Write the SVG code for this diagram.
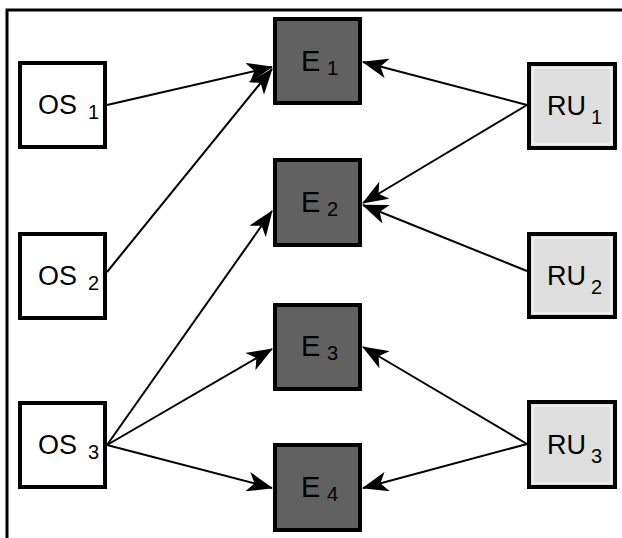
<svg xmlns="http://www.w3.org/2000/svg" width="622" height="538" viewBox="0 0 622 538">
<style>
.box{stroke:#000;stroke-width:4}
.os{fill:#fff}
.e{fill:#616161}
.ru{fill:#dedede}
.inner{fill:none;stroke:#f4f4f4;stroke-width:1.5}
.t{font-family:"Liberation Sans",Arial,sans-serif;fill:#000}
.m{font-size:27px}
.me{font-size:29px}
.s{font-size:20px}
.c line{stroke:#000;stroke-width:2}
</style>
<defs>
<marker id="ah" viewBox="0 0 26 20" markerWidth="26" markerHeight="20" refX="25" refY="10" orient="auto" markerUnits="userSpaceOnUse">
<path d="M0,0 L26,10 L0,20 L7,10 z" fill="#000"/>
</marker>
</defs>
<rect width="622" height="538" fill="#fff"/>
<path d="M7,538 V10 H622" fill="none" stroke="#000" stroke-width="3"/>
<g class="c">
<line x1="107" y1="105" x2="272" y2="67" marker-end="url(#ah)"/>
<line x1="107" y1="272" x2="272" y2="69" marker-end="url(#ah)"/>
<line x1="107" y1="445" x2="272" y2="211" marker-end="url(#ah)"/>
<line x1="107" y1="445" x2="272" y2="349" marker-end="url(#ah)"/>
<line x1="107" y1="445" x2="272" y2="488" marker-end="url(#ah)"/>
<line x1="527" y1="105" x2="363" y2="62" marker-end="url(#ah)"/>
<line x1="527" y1="105" x2="363" y2="203" marker-end="url(#ah)"/>
<line x1="527" y1="271" x2="363" y2="205" marker-end="url(#ah)"/>
<line x1="527" y1="444" x2="363" y2="347" marker-end="url(#ah)"/>
<line x1="527" y1="444" x2="363" y2="488" marker-end="url(#ah)"/>
</g>
<g id="OS1"><rect class="box os" x="20" y="63" width="85" height="84"/><text class="t" x="38" y="114"><tspan class="m">OS</tspan><tspan class="s" x="88" y="119">1</tspan></text></g>
<g id="OS2"><rect class="box os" x="20" y="234" width="85" height="84"/><text class="t" x="38" y="285"><tspan class="m">OS</tspan><tspan class="s" x="88" y="290">2</tspan></text></g>
<g id="OS3"><rect class="box os" x="20" y="403" width="85" height="84"/><text class="t" x="38" y="454"><tspan class="m">OS</tspan><tspan class="s" x="88" y="459">3</tspan></text></g>
<g id="E1"><rect class="box e" x="275" y="19" width="85" height="84"/><text class="t" x="301" y="71"><tspan class="me">E</tspan><tspan class="s" x="327" y="75">1</tspan></text></g>
<g id="E2"><rect class="box e" x="275" y="160" width="85" height="85"/><text class="t" x="301" y="212"><tspan class="me">E</tspan><tspan class="s" x="327" y="216">2</tspan></text></g>
<g id="E3"><rect class="box e" x="275" y="305" width="85" height="84"/><text class="t" x="301" y="356"><tspan class="me">E</tspan><tspan class="s" x="327" y="360">3</tspan></text></g>
<g id="E4"><rect class="box e" x="275" y="445" width="85" height="85"/><text class="t" x="301" y="497"><tspan class="me">E</tspan><tspan class="s" x="327" y="501">4</tspan></text></g>
<g id="RU1"><rect class="box ru" x="529" y="64" width="86" height="84"/><rect class="inner" x="533" y="68" width="78" height="76"/><text class="t" x="547" y="115"><tspan class="m">RU</tspan><tspan class="s" x="591" y="124">1</tspan></text></g>
<g id="RU2"><rect class="box ru" x="529" y="234" width="86" height="83"/><rect class="inner" x="533" y="238" width="78" height="75"/><text class="t" x="547" y="285"><tspan class="m">RU</tspan><tspan class="s" x="591" y="294">2</tspan></text></g>
<g id="RU3"><rect class="box ru" x="529" y="402" width="86" height="85"/><rect class="inner" x="533" y="406" width="78" height="77"/><text class="t" x="547" y="454"><tspan class="m">RU</tspan><tspan class="s" x="591" y="463">3</tspan></text></g>
</svg>
